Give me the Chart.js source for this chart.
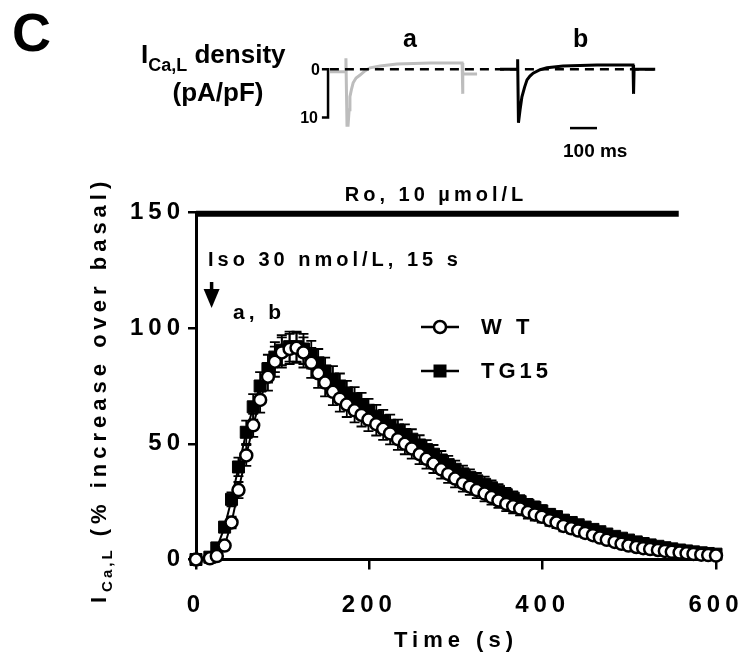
<!DOCTYPE html>
<html><head><meta charset="utf-8">
<script src="https://cdn.jsdelivr.net/npm/chart.js@4"></script>
<style>
html,body{margin:0;padding:0;background:#fff;}
#wrap{position:relative;width:747px;height:661px;overflow:hidden;font-family:"Liberation Sans",Arial,sans-serif;}
#c{position:absolute;left:0;top:0;}
#ins{position:absolute;left:300px;top:50px;}
.t{position:absolute;font-weight:bold;color:#000;white-space:nowrap;line-height:1;}
</style></head>
<body><div id="wrap">
<canvas id="c" width="747" height="661"></canvas>
<canvas id="ins" width="360" height="90"></canvas>
<div class="t" style="left:12px;top:5px;font-size:54px;">C</div>
<div class="t" style="left:141px;top:41px;font-size:26px;">I<span style="font-size:18px;position:relative;top:8px;">Ca,L</span> density</div>
<div class="t" style="left:168px;top:79px;width:100px;text-align:center;font-size:26px;">(pA/pF)</div>
<div class="t" style="left:290px;top:62px;width:30px;text-align:right;font-size:16px;">0</div>
<div class="t" style="left:288px;top:110px;width:30px;text-align:right;font-size:16px;">10</div>
<div class="t" style="left:403px;top:26px;font-size:25px;">a</div>
<div class="t" style="left:573px;top:26px;font-size:25px;">b</div>
<div class="t" style="left:563px;top:141px;font-size:19px;">100 ms</div>
</div>
<script>
const FONT = '"Liberation Sans", Arial, sans-serif';

// ---- main chart data ----
const times = [0,16,24,33,41,49,58,66,74,83,91,99,108,116,124,133,141,149,158,166,174,183,191,199,208,216,224,233,241,249,258,266,274,283,291,299,308,316,324,333,341,349,358,366,374,383,391,399,408,416,424,433,441,449,458,466,474,483,491,499,508,516,524,533,541,549,558,566,574,583,591,600];
const wtValues = [0,0.5,1.5,6,16,30,45,58,69,79,85.5,89.5,91,91.5,89.5,85,80.5,76.5,72.5,69.5,67,64.5,62.5,60.5,58.5,56.5,54.5,52,50,48,45.5,43.5,41.5,39,37,35,33,31.5,30,28.5,27,25.5,24,23,22,20.5,19.5,18.5,17,16,14.5,13.5,12.5,11.5,10.5,9.5,8.5,7.6,6.8,6,5.4,4.9,4.5,4.1,3.7,3.3,3,2.7,2.4,2.1,1.9,1.7];
const tgValues = [0,1,5,14,26,40,55,66,75,82.5,87.5,90.5,92,92,91,88.5,85,81.5,78,75,72,69.5,67,64.5,62,60,58,56,54,52,49.5,47.5,45.5,43,41,39,37,35.5,34,32.5,31,29.5,28,26.5,25,23.5,22.5,21,19.5,18.5,17,16,15,14,13,12,11,10,9.2,8.4,7.6,6.9,6.3,5.7,5.1,4.6,4.1,3.7,3.3,2.9,2.6,2.3];
const wtSem = [0,0.3,0.8,1.5,2.5,3.5,4.5,5,5.5,6,6.5,6.5,6.5,6.5,6.5,6.5,6.3,6,5.8,5.6,5.4,5.2,5,5,4.9,4.8,4.7,4.6,4.5,4.4,4.3,4.2,4.1,4,3.9,3.8,3.7,3.6,3.5,3.4,3.3,3.2,3.1,3,2.9,2.8,2.7,2.6,2.5,2.4,2.3,2.2,2.1,2,1.9,1.8,1.7,1.6,1.5,1.4,1.3,1.2,1.1,1,1,0.9,0.9,0.8,0.8,0.7,0.7,0.6];
const tgSem = [0,0.5,1,2,3,4,5,5.5,6,6,6.5,6.5,6.5,6.5,6.5,6,6,5.8,5.6,5.4,5.2,5,5,4.9,4.8,4.7,4.6,4.5,4.4,4.3,4.2,4.1,4,3.9,3.8,3.7,3.6,3.5,3.4,3.3,3.2,3.1,3,2.9,2.8,2.7,2.6,2.5,2.4,2.3,2.2,2.1,2,1.9,1.8,1.7,1.6,1.5,1.4,1.3,1.2,1.1,1,1,0.9,0.9,0.8,0.8,0.7,0.7,0.6,0.6];
const xTicks = [0,200,400,600];
const yTicks = [0,50,100,150];
const roTimes = [0,557];
const roLevel = [149.5,149.5];
const isoTime = 18;

// ---- inset traces (ms, pA/pF) ----
const traceA_ms  = [112,169,172,176,180,184,187,193,199,210,225,243,262,300,363,487,607,609,610,663];
const traceA_val = [-0.5,-0.5,2.3,-11.6,-11.6,-8.4,-5.7,-4.1,-2.8,-1.8,-1.2,-0.35,0.3,0.7,1.1,1.3,1.3,-5.1,-1.0,-1.0];
const traceB_ms  = [749,813,815,818,820,824,831,841,850,861,873,899,925,985,1112,1247,1249,1251,1330];
const traceB_val = [0,0,2.1,-11.1,-11.1,-8.4,-5.7,-3.7,-2.2,-1.4,-0.8,-0.1,0.3,0.7,0.9,0.9,-5.1,0,0];
const zero_ms = [112,1335];
const zero_val = [0,0];
const ampBar_ms = [82,105,105,82];
const ampBar_val = [0,0,-10,-10];
const timeBar_ms = [1011,1112];
const timeBar_val = [-12.2,-12.2];

const pts = (xs, ys) => xs.map((x,i)=>({x, y: ys[i]}));

const spacing = {
  id:'spacing',
  beforeUpdate(c){ c.ctx.letterSpacing='5px'; },
  beforeLayout(c){ c.ctx.letterSpacing='5px'; },
  beforeDraw(c){ c.ctx.letterSpacing='5px'; }
};

const errorBars = {
  id:'errorBars',
  beforeDatasetsDraw(c){
    const {ctx, scales:{x,y}} = c;
    ctx.save();
    ctx.strokeStyle='#000'; ctx.lineWidth=1.8;
    [[wtValues,wtSem],[tgValues,tgSem]].forEach(([vals,sem])=>{
      times.forEach((t,i)=>{
        if(!sem[i]) return;
        const px=x.getPixelForValue(t);
        const y1=y.getPixelForValue(vals[i]+sem[i]);
        const y2=y.getPixelForValue(vals[i]-sem[i]);
        ctx.beginPath();
        ctx.moveTo(px,y1); ctx.lineTo(px,y2);
        ctx.moveTo(px-5,y1); ctx.lineTo(px+5,y1);
        ctx.moveTo(px-5,y2); ctx.lineTo(px+5,y2);
        ctx.stroke();
      });
    });
    ctx.restore();
  }
};

const annotations = {
  id:'annotations',
  afterDraw(c){
    const {ctx, scales:{x,y}} = c;
    ctx.save();
    ctx.fillStyle='#000'; ctx.strokeStyle='#000';
    ctx.textBaseline='middle';
    ctx.letterSpacing='4px';
    ctx.font=`bold 20px ${FONT}`;
    ctx.textAlign='center';
    ctx.fillText('Ro, 10 µmol/L', 436, 195);
    ctx.textAlign='left';
    ctx.fillText('Iso 30 nmol/L, 15 s', 208, 260);
    ctx.font=`bold 21px ${FONT}`;
    ctx.fillText('a, b', 233, 313);
    // Iso arrow
    const ax = x.getPixelForValue(isoTime);
    ctx.lineWidth=3.5;
    ctx.beginPath(); ctx.moveTo(ax,282); ctx.lineTo(ax,292); ctx.stroke();
    ctx.beginPath(); ctx.moveTo(ax-8,289); ctx.lineTo(ax+8,289); ctx.lineTo(ax,308); ctx.closePath(); ctx.fill();
    // legend
    ctx.font=`bold 22px ${FONT}`;
    ctx.lineWidth=2.5;
    ctx.beginPath(); ctx.moveTo(421,327); ctx.lineTo(459,327); ctx.stroke();
    ctx.beginPath(); ctx.arc(440,327,6,0,Math.PI*2); ctx.fillStyle='#fff'; ctx.fill(); ctx.stroke();
    ctx.fillStyle='#000';
    ctx.fillText(c.data.datasets[0].label, 481, 328);
    ctx.beginPath(); ctx.moveTo(421,371); ctx.lineTo(459,371); ctx.stroke();
    ctx.fillRect(433.5,364.5,13,13);
    ctx.fillText(c.data.datasets[1].label, 481, 372);
    // y title with subscript
    ctx.translate(106,603);
    ctx.rotate(-Math.PI/2);
    ctx.textBaseline='alphabetic';
    ctx.letterSpacing='5px';
    ctx.font=`bold 22px ${FONT}`;
    ctx.fillText('I',0,0);
    let off = ctx.measureText('I').width;
    ctx.letterSpacing='3px';
    ctx.font=`bold 15px ${FONT}`;
    ctx.fillText('Ca,L',off,6);
    off += ctx.measureText('Ca,L').width;
    ctx.letterSpacing='5px';
    ctx.font=`bold 22px ${FONT}`;
    ctx.fillText(' (% increase over basal)',off,0);
    ctx.restore();
  }
};

new Chart(document.getElementById('c'), {
  type:'line',
  data:{datasets:[
    {label:'W T', data:pts(times,wtValues), borderColor:'#000', borderWidth:2, pointStyle:'circle', pointRadius:6, pointBorderWidth:2.5, pointBackgroundColor:'#fff', pointBorderColor:'#000', clip:false},
    {label:'TG15', data:pts(times,tgValues), borderColor:'#000', borderWidth:2, pointStyle:'rect', pointRadius:8.5, pointBorderWidth:1, pointBackgroundColor:'#000', pointBorderColor:'#000', clip:false},
    {label:'Ro', data:pts(roTimes,roLevel), borderColor:'#000', borderWidth:6, pointRadius:0, clip:false}
  ]},
  options:{
    responsive:false, animation:false, devicePixelRatio:1,
    layout:{padding:{left:0,right:31,top:212.5,bottom:0}, autoPadding:false},
    plugins:{legend:{display:false}, tooltip:{enabled:false}},
    scales:{
      x:{type:'linear', min:0, max:600,
        afterFit(s){ s.height=101.5; s.paddingLeft=0; s.paddingRight=0; },
        afterBuildTicks(s){ s.ticks = xTicks.map(v=>({value:v})); },
        ticks:{font:{family:FONT,size:24,weight:'bold'}, color:'#000', padding:21, maxRotation:0, autoSkip:false},
        grid:{drawOnChartArea:false, drawTicks:true, tickLength:10, lineWidth:2.5, color:'#000'},
        border:{display:true, color:'#000', width:3},
        title:{display:true, text:'Time (s)', color:'#000', font:{family:FONT,size:22,weight:'bold'}, padding:{top:0,bottom:7}}
      },
      y:{min:0, max:150,
        afterFit(s){ s.width=196; s.paddingTop=0; s.paddingBottom=0; },
        afterBuildTicks(s){ s.ticks = yTicks.map(v=>({value:v})); },
        ticks:{font:{family:FONT,size:24,weight:'bold'}, color:'#000', padding:3, autoSkip:false},
        grid:{drawOnChartArea:false, drawTicks:true, tickLength:8, lineWidth:2.5, color:'#000'},
        border:{display:true, color:'#000', width:3}
      }
    }
  },
  plugins:[spacing, errorBars, annotations]
});

new Chart(document.getElementById('ins'), {
  type:'line',
  data:{datasets:[
    {data:pts(zero_ms,zero_val), borderColor:'#000', borderWidth:2.5, borderDash:[9,6], pointRadius:0},
    {data:pts(traceB_ms,traceB_val), borderColor:'#000', borderWidth:3, pointRadius:0},
    {data:pts(traceA_ms,traceA_val), borderColor:'#bdbdbd', borderWidth:3, pointRadius:0},
    {data:pts(ampBar_ms,ampBar_val), borderColor:'#000', borderWidth:2.5, pointRadius:0},
    {data:pts(timeBar_ms,timeBar_val), borderColor:'#000', borderWidth:2.5, pointRadius:0}
  ]},
  options:{
    responsive:false, animation:false, devicePixelRatio:1,
    layout:{padding:0},
    plugins:{legend:{display:false}, tooltip:{enabled:false}},
    elements:{line:{tension:0}},
    scales:{
      x:{type:'linear', display:false, min:0, max:1348},
      y:{type:'linear', display:false, min:-14.67, max:4.0}
    }
  }
});
</script>
</body></html>
